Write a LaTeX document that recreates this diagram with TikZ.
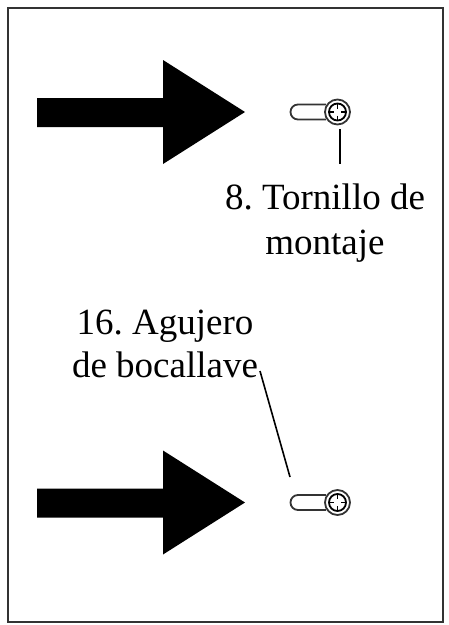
\documentclass[tikz,border=0pt]{standalone}
\usepackage{fontspec}
\setmainfont{Liberation Serif}
\tikzset{
	labeltext/.style={font=\fontsize{37}{43}\selectfont,align=center,inner sep=0pt},
	leader/.style={line width=1.6pt},
	screwline/.style={line width=1.8pt,black!80!white},
}
\begin{document}
\frenchspacing
\begin{tikzpicture}[x=1pt,y=-1pt]
\useasboundingbox (0,0) rectangle (448,625);
\draw[line width=2pt,black!80!white] (8,8) rectangle (443,622);
% arrows and screws
\foreach \ypos [count=\i] in {112,502.5}
{
	\fill[black] (37,\ypos-14) -- (163,\ypos-14) -- (163,\ypos-52) -- (245,\ypos) -- (163,\ypos+52) -- (163,\ypos+15) -- (37,\ypos+15) -- cycle;
	\draw[screwline] (326,\ypos-7.5) -- (298,\ypos-7.5) arc (270:90:7.5) -- (326,\ypos+7.5);
	\node[circle,draw,screwline,fill=white,minimum size=25pt,inner sep=0pt] (screw\i) at (337.5,\ypos) {};
	\draw[screwline,black] (337.5,\ypos) circle (8.5);
	\draw[screwline,black,line width=1.5pt] (337.5,\ypos-9) -- (337.5,\ypos-3.5) (337.5,\ypos+3.5) -- (337.5,\ypos+9);
	\draw[screwline,black,line width=1.5pt] (328.5,\ypos) -- (334,\ypos) (341,\ypos) -- (346.5,\ypos);
}
\node[labeltext] (tornillo) at (325,223) {8. Tornillo de\\[2pt]montaje};
\node[labeltext] (agujero) at (165,344) {16. Agujero\\de bocallave};
\coordinate (tornillotop) at (340,129);
\coordinate (tornillobot) at (340,164);
\coordinate (agujerotop) at (260,371);
\coordinate (agujerobot) at (290,477);
\draw[leader] (tornillotop) -- (tornillobot);
\draw[leader] (agujerotop) -- (agujerobot);
\end{tikzpicture}
\end{document}
